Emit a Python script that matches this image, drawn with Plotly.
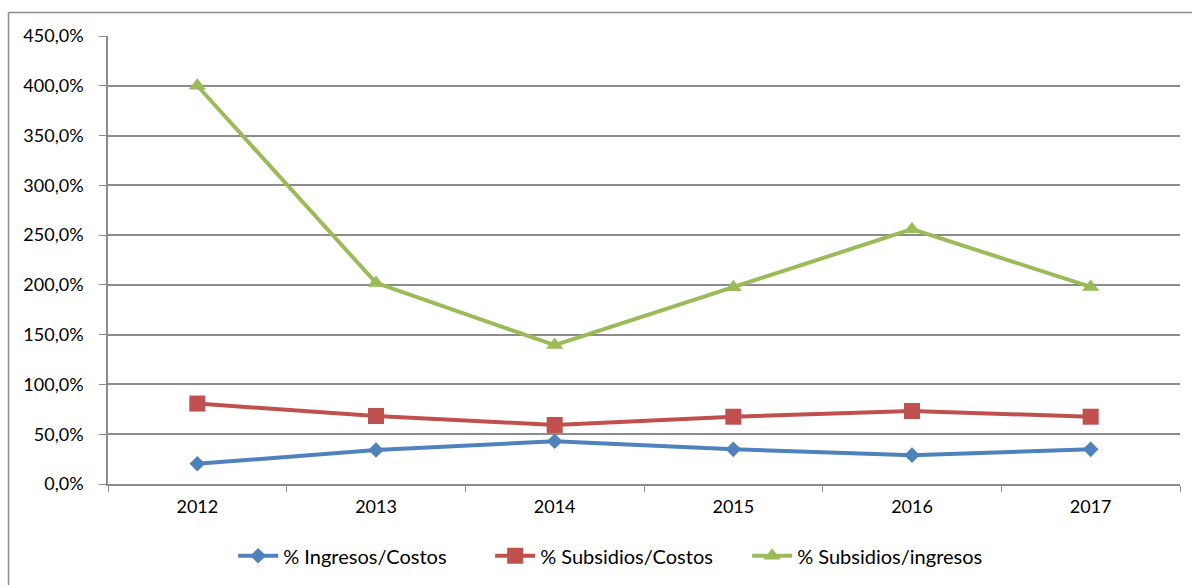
import plotly.graph_objects as go

years = ["2012", "2013", "2014", "2015", "2016", "2017"]
ingresos_costos = [20.3, 34.1, 43.0, 34.8, 29.0, 34.8]
subsidios_costos = [80.8, 68.3, 59.3, 67.6, 73.3, 67.6]
subsidios_ingresos = [400.0, 202.0, 139.5, 197.6, 256.0, 198.0]
y_ticks = [0, 50, 100, 150, 200, 250, 300, 350, 400, 450]
y_tick_text = [f"{v:.1f}".replace(".", ",") + "%" for v in y_ticks]

W, H = 1192, 585
# plot area edges in pixels
PL, PR, PT, PB = 108, 1180, 36, 484

FONT = "Lato"
GRID = "#8c8c8c"

series = [
    ("% Ingresos/Costos", ingresos_costos, "#4F81BD", "diamond", 12),
    ("% Subsidios/Costos", subsidios_costos, "#C0504D", "square", 16),
    ("% Subsidios/ingresos", subsidios_ingresos, "#9BBB59", "triangle-up", 15),
]

fig = go.Figure()
for name, vals, color, sym, size in series:
    fig.add_trace(go.Scatter(
        x=years, y=vals, name=name, mode="lines+markers",
        line=dict(color=color, width=4),
        marker=dict(symbol=sym, size=size, color=color),
    ))

# outer chart frame (left and top edges); with zero margins paper spans the whole canvas
fx = 8.5 / W
fy = 1 - 12.5 / H
frame = dict(type="line", xref="paper", yref="paper", line=dict(color=GRID, width=1.5), layer="above")
fig.add_shape(**frame, x0=fx, x1=1.0, y0=fy, y1=fy)
fig.add_shape(**frame, x0=fx, x1=fx, y0=0.0, y1=fy)

fig.update_layout(
    width=W, height=H,
    margin=dict(l=0, r=0, t=0, b=0, autoexpand=False),
    paper_bgcolor="white", plot_bgcolor="white",
    font=dict(family=FONT, size=18, color="#000000"),
    showlegend=True,
    legend=dict(
        orientation="h", xref="container", yref="container",
        x=0.519, xanchor="center", y=0.05, yanchor="middle",
        font=dict(family=FONT, size=20),
        itemwidth=40, entrywidth=202, entrywidthmode="pixels",
    ),
    xaxis=dict(
        domain=[PL / W, PR / W], automargin=False,
        type="category", showgrid=False, showline=True, linecolor=GRID, linewidth=1.5,
        ticks="outside", tickson="boundaries", ticklen=6, tickcolor=GRID,
        tickfont=dict(family=FONT, size=18), ticklabelstandoff=6,
        range=[-0.5, 5.5],
    ),
    yaxis=dict(
        domain=[1 - PB / H, 1 - PT / H], automargin=False,
        range=[0, 450], tickmode="array", tickvals=y_ticks, ticktext=y_tick_text,
        showgrid=True, gridcolor=GRID, gridwidth=1.5,
        showline=True, linecolor=GRID, linewidth=1.5,
        ticks="outside", ticklen=7, tickcolor=GRID,
        tickfont=dict(family=FONT, size=18), ticklabelstandoff=12,
        zeroline=False,
    ),
)

fig.write_html("out.html", config={"displayModeBar": False})
